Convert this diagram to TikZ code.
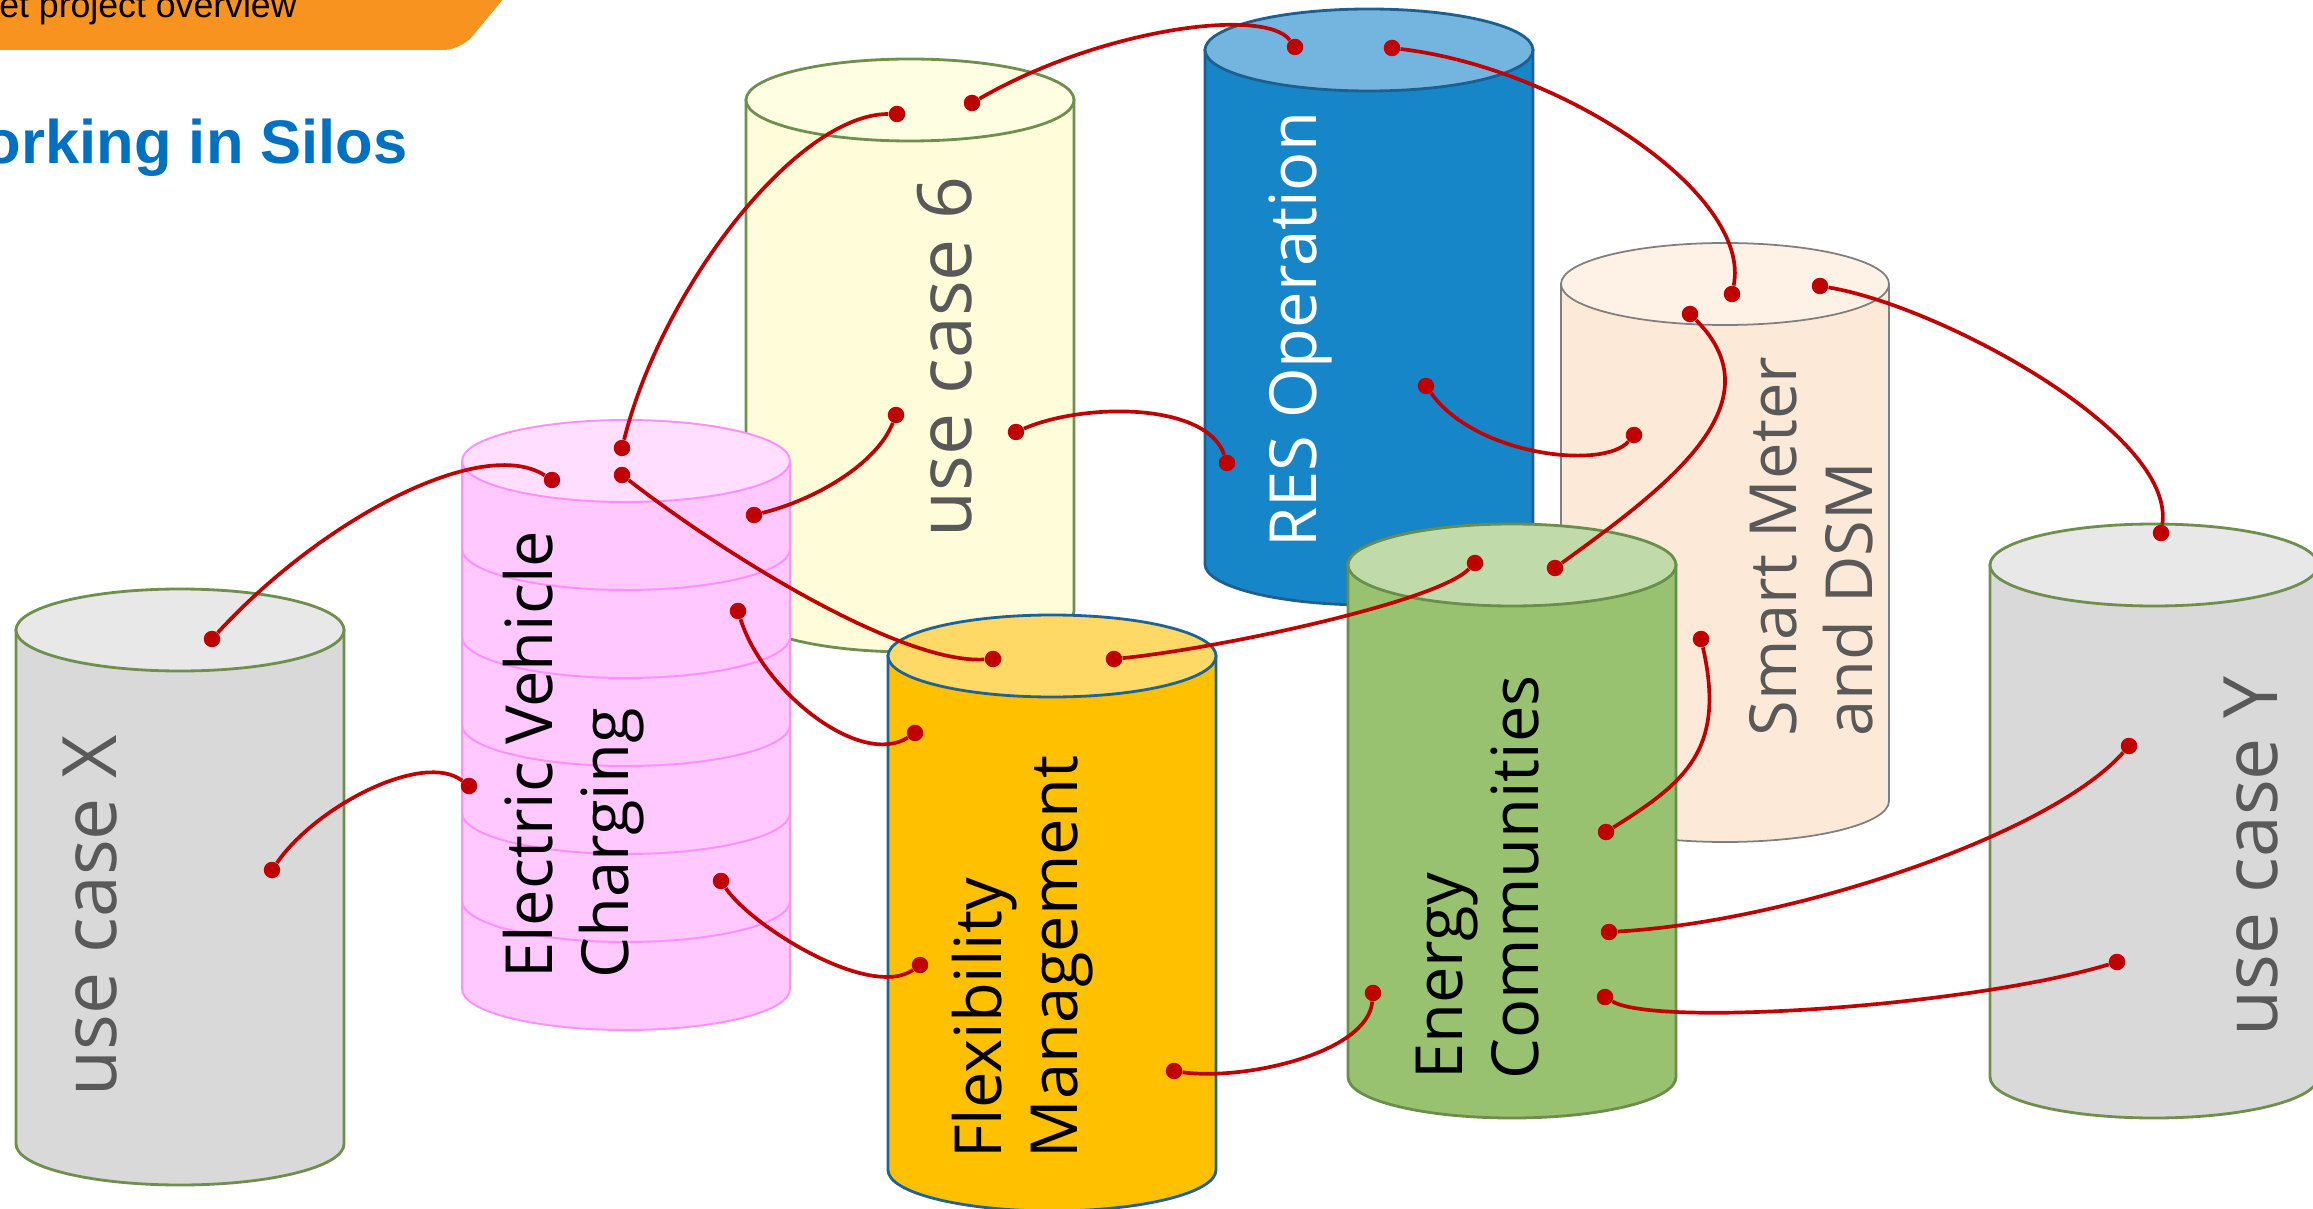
\documentclass[tikz,border=0pt]{standalone}
\usepackage{fontspec}
\setmainfont{Open Sans}
\newfontfamily\headfont{Liberation Sans}
\definecolor{linkred}{HTML}{C00000}
\definecolor{titleblue}{HTML}{0070C0}
\definecolor{bannerorange}{HTML}{F7931E}
\definecolor{labelgray}{HTML}{595959}
\definecolor{grybody}{HTML}{D9D9D9}
\definecolor{grytop}{HTML}{E8E8E8}
\definecolor{gryline}{HTML}{6F8F4F}
\definecolor{ylwbody}{HTML}{FEFCD9}
\definecolor{ylwtop}{HTML}{FEFEE3}
\definecolor{ylwline}{HTML}{6F8F4F}
\definecolor{pnkbody}{HTML}{FFC9FF}
\definecolor{pnktop}{HTML}{FFDEFF}
\definecolor{pnkline}{HTML}{FF8FFF}
\definecolor{blubody}{HTML}{1686C8}
\definecolor{blutop}{HTML}{74B5DF}
\definecolor{bluline}{HTML}{1F5F8F}
\definecolor{orgbody}{HTML}{FFC000}
\definecolor{orgtop}{HTML}{FFD966}
\definecolor{orgline}{HTML}{1F6396}
\definecolor{pchbody}{HTML}{FDE9D8}
\definecolor{pchtop}{HTML}{FEF2E7}
\definecolor{pchline}{HTML}{7F7F7F}
\definecolor{grnbody}{HTML}{98C270}
\definecolor{grntop}{HTML}{C1DAAA}
\definecolor{grnline}{HTML}{6A8E4C}
\usepackage{tikz}
% one silo: centre x, top y, bottom y, colour set, outline width
\newcommand{\silo}[5]{%
  \filldraw[fill=#4body, draw=#4line, line width=#5] (#1-164,#2) -- (#1-164,#3)
    arc[start angle=180, end angle=0, x radius=164, y radius=41] -- (#1+164,#2) -- cycle;
  \filldraw[fill=#4top, draw=#4line, line width=#5] (#1,#2) ellipse[x radius=164, y radius=41];
}

\begin{document}
\begin{tikzpicture}[x=0.02cm, y=-0.02cm,
    dot/.style={circle, fill=linkred, inner sep=0pt, minimum size=0.33cm},
    link/.style={draw=linkred, line width=2.1pt},
    usecase/.style={text=labelgray, rotate=90, anchor=west, inner sep=0pt,
      font=\fontsize{42.7}{50}\selectfont},
    silolabel/.style={rotate=90, anchor=west, inner sep=0pt, align=left,
      font=\fontsize{37}{43.3}\selectfont}]
  \useasboundingbox (0,0) rectangle (2313,1209);
  % Back row of silos
  \silo{910}{100}{611}{ylw}{1.6pt}
  \node[usecase] (uc6name) at (945,538) {use case 6};
  \silo{1369}{50}{564}{blu}{1.6pt}
  \node[silolabel, text=white] (resname) at (1300,548) {RES Operation};
  \silo{1725}{284}{801}{pch}{1pt}
  \node[silolabel, text=labelgray] (smname) at (1811,737) {Smart Meter\\and DSM};
  % Electric vehicle silo with its layers
  \silo{626}{461}{989}{pnk}{1.1pt}
  \foreach \k in {1,...,5}
    \draw[pnkline, line width=1.1pt] (462,461+88*\k)
      arc[start angle=180, end angle=0, x radius=164, y radius=41];
  \node[silolabel] (evname) at (574,979) {Electric Vehicle\\Charging};
  % Front row of silos
  \silo{1052}{656}{1170}{org}{1.6pt}
  \node[silolabel] (flxname) at (1023,1159) {Flexibility\\Management};
  \silo{1512}{565}{1077}{grn}{1.6pt}
  \node[silolabel] (ecname) at (1478,1080) {Energy\\Communities};
  \silo{180}{630}{1144}{gry}{1.6pt}
  \node[usecase] (ucxname) at (90,1097) {use case X};
  \silo{2154}{565}{1077}{gry}{1.6pt}
  \node[usecase] (ucyname) at (2251,1037) {use case Y};
  % Header
  \fill[bannerorange, rounded corners=10] (-20,-20) -- (519,-20) -- (461,50) -- (-20,50) -- cycle;
  \node[anchor=base east, inner sep=0pt, font=\headfont\fontsize{20.3}{24}\selectfont]
    (subtitle) at (297,18) {et project overview};
  \node[anchor=base east, inner sep=0pt, text=titleblue,
    font=\headfont\bfseries\fontsize{35}{42}\selectfont] (title) at (408,164) {orking in Silos};
  % Link end points
  \node[dot] (ucx1) at (212,639) {};
  \node[dot] (ucx2) at (272,870) {};
  \node[dot] (ev1) at (622,448) {};
  \node[dot] (ev2) at (622,475) {};
  \node[dot] (ev3) at (552,480) {};
  \node[dot] (ev4) at (754,515) {};
  \node[dot] (ev5) at (738,611) {};
  \node[dot] (ev6) at (469,786) {};
  \node[dot] (ev7) at (721,881) {};
  \node[dot] (uc61) at (897,114) {};
  \node[dot] (uc62) at (972,103) {};
  \node[dot] (uc63) at (896,415) {};
  \node[dot] (uc64) at (1016,432) {};
  \node[dot] (res1) at (1295,47) {};
  \node[dot] (res2) at (1392,48) {};
  \node[dot] (res3) at (1227,463) {};
  \node[dot] (res4) at (1426,386) {};
  \node[dot] (flx1) at (993,659) {};
  \node[dot] (flx2) at (1114,659) {};
  \node[dot] (flx3) at (915,733) {};
  \node[dot] (flx4) at (920,965) {};
  \node[dot] (flx5) at (1174,1071) {};
  \node[dot] (sm1) at (1732,294) {};
  \node[dot] (sm2) at (1820,286) {};
  \node[dot] (sm3) at (1690,314) {};
  \node[dot] (sm4) at (1634,435) {};
  \node[dot] (sm5) at (1701,639) {};
  \node[dot] (ec1) at (1475,563) {};
  \node[dot] (ec2) at (1555,568) {};
  \node[dot] (ec3) at (1606,832) {};
  \node[dot] (ec4) at (1609,932) {};
  \node[dot] (ec5) at (1605,997) {};
  \node[dot] (ec6) at (1373,993) {};
  \node[dot] (ucy1) at (2161,533) {};
  \node[dot] (ucy2) at (2129,746) {};
  \node[dot] (ucy3) at (2117,962) {};
  % Links between the silos
  \draw[link] (ucx1) .. controls +(110,-120) and +(-70,-45) .. (ev3);
  \draw[link] (ucx2) .. controls +(45,-65) and +(-45,-35) .. (ev6);
  \draw[link] (ev1) .. controls +(40,-160) and +(-100,0) .. (uc61);
  \draw[link] (ev2) .. controls +(110,85) and +(-90,5) .. (flx1);
  \draw[link] (uc63) .. controls +(-20,50) and +(60,-15) .. (ev4);
  \draw[link] (ev5) .. controls +(25,80) and +(-55,35) .. (flx3);
  \draw[link] (ev7) .. controls +(30,45) and +(-50,35) .. (flx4);
  \draw[link] (uc64) .. controls +(70,-30) and +(-20,-60) .. (res3);
  \draw[link] (uc62) .. controls +(130,-75) and +(-30,-40) .. (res1);
  \draw[link] (res2) .. controls +(170,20) and +(20,-100) .. (sm1);
  \draw[link] (res4) .. controls +(50,70) and +(-30,35) .. (sm4);
  \draw[link] (sm2) .. controls +(120,20) and +(15,-100) .. (ucy1);
  \draw[link] (sm3) .. controls +(90,90) and +(110,-80) .. (ec2);
  \draw[link] (sm5) .. controls +(25,110) and +(80,-50) .. (ec3);
  \draw[link] (ec1) .. controls +(-40,40) and +(100,-10) .. (flx2);
  \draw[link] (ec6) .. controls +(-5,60) and +(70,10) .. (flx5);
  \draw[link] (ec4) .. controls +(180,-10) and +(-80,90) .. (ucy2);
  \draw[link] (ec5) .. controls +(50,30) and +(-150,45) .. (ucy3);
\end{tikzpicture}
\end{document}
